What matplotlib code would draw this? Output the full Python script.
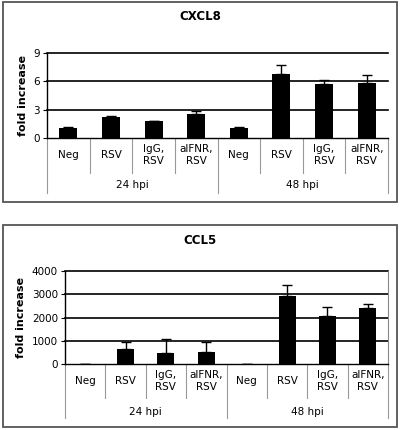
import matplotlib.pyplot as plt
from matplotlib.patches import Rectangle

W, H = 400, 430

categories = ['Neg', 'RSV', 'IgG,\nRSV', 'aIFNR,\nRSV', 'Neg', 'RSV', 'IgG,\nRSV', 'aIFNR,\nRSV']
groups = ['24 hpi', '48 hpi']

cxcl8 = [1.05, 2.2, 1.75, 2.55, 1.05, 6.8, 5.75, 5.85]
cxcl8_err = [0.15, 0.1, 0.1, 0.3, 0.08, 0.9, 0.4, 0.85]
cxcl8_ticks = [0, 3, 6, 9]

ccl5 = [5, 630, 490, 510, 5, 2920, 2080, 2400]
ccl5_err = [5, 320, 600, 450, 5, 490, 370, 200]
ccl5_ticks = [0, 1000, 2000, 3000, 4000]

plt.rcParams['font.family'] = 'DejaVu Sans'
fig = plt.figure(figsize=(W / 100, H / 100), dpi=100)


def panel(frame, title, title_y, left, top, bottom, vals, errs, ticks, inner, outer, lab_off, grp_off, right_spine):
    # frame around the panel (pixel coords)
    x0, y0, x1, y1 = frame
    fig.patches.append(Rectangle((x0 / W, 1 - y1 / H), (x1 - x0) / W, (y1 - y0) / H,
                                 transform=fig.transFigure, fill=False, ec='#555555', lw=1.3))
    fig.text(200 / W, 1 - title_y / H, title, ha='center', va='center', fontsize=8.5, fontweight='bold')

    right = 388
    ax = fig.add_axes([left / W, 1 - bottom / H, (right - left) / W, (bottom - top) / H])
    hpx = bottom - top
    x = range(len(vals))
    ax.bar(x, vals, width=0.42, color='black', zorder=3)
    ax.errorbar(x, vals, yerr=[[0] * len(vals), errs], fmt='none', ecolor='black',
                elinewidth=1, capsize=3.5, capthick=1, zorder=3)
    ax.set_xlim(-0.5, len(vals) - 0.5)
    ax.set_ylim(ticks[0], ticks[-1])
    ax.set_yticks(ticks)
    ax.tick_params(axis='y', labelsize=7.5, length=3, width=0.8, pad=2)
    ax.set_xticks([])
    for t in ticks[1:]:
        ax.axhline(t, color='black', lw=1.2, zorder=1, clip_on=False)
    ax.spines['top'].set_visible(False)
    ax.spines['right'].set_visible(right_spine)
    ax.spines['right'].set_color('#888888')
    ax.spines['left'].set_linewidth(1)
    ax.spines['bottom'].set_linewidth(1)
    ax.set_ylabel('fold increase', fontsize=8, fontweight='bold', labelpad=4)

    tr = ax.get_xaxis_transform()
    for i in range(len(vals) + 1):
        xb = i - 0.5
        depth = outer if i % 4 == 0 else inner
        ax.plot([xb, xb], [0, -depth / hpx], transform=tr, color='#999999', lw=0.8, clip_on=False)
    for i, c in enumerate(categories):
        ax.text(i, -lab_off / hpx, c, transform=tr, ha='center', va='center', fontsize=7.5,
                linespacing=1.2)
    for g, name in enumerate(groups):
        ax.text(g * 4 + 1.5, -grp_off / hpx, name, transform=tr, ha='center', va='center', fontsize=7.5)
    return ax


panel((3, 2, 397, 202), 'CXCL8', 17, 47, 53, 138, cxcl8, cxcl8_err, cxcl8_ticks, 35, 55, 17, 47, False)
panel((3, 225, 397, 427), 'CCL5', 240, 65, 271, 364, ccl5, ccl5_err, ccl5_ticks, 34, 54, 17, 48, True)

fig.savefig('out.png', dpi=100)
